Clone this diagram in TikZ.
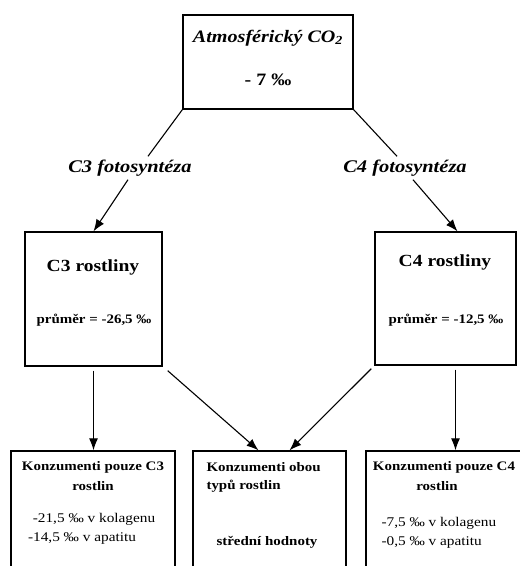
\documentclass[tikz,border=0pt]{standalone}
\usepackage{fontspec}
\setmainfont{Liberation Serif}[FakeStretch=1.15]
\usetikzlibrary{arrows.meta,calc}
\begin{document}
\begin{tikzpicture}[x=1pt,y=-1pt,
    box/.style={draw, line width=1.3pt, inner sep=0pt},
    con/.style={line width=1.1pt},
    arr/.style={line width=1.1pt, -{Latex[length=12pt,width=9pt]}},
    big/.style={font=\bfseries\fontsize{17}{20}\selectfont},
    sml/.style={font=\bfseries\fontsize{13}{15}\selectfont},
    val/.style={font=\fontsize{13.3}{15}\selectfont}]
\clip (0,0) rectangle (520,566);

% boxes
\node[box, minimum width=170pt, minimum height=94pt] (atm) at (268,62) {};
\node[box, minimum width=137pt, minimum height=134pt] (c3box) at (93.5,299) {};
\node[box, minimum width=141pt, minimum height=133pt] (c4box) at (445.5,298.5) {};
\node[box, minimum width=164pt, minimum height=160pt] (k3) at (93,531) {};
\node[box, minimum width=153pt, minimum height=160pt] (kboth) at (269.5,531) {};
\node[box, minimum width=156pt, minimum height=160pt] (k4) at (444,531) {};

% texts
\node[font=\bfseries\itshape\fontsize{17.5}{20}\selectfont] (atmname) at (268,38) {Atmosférický CO\textsubscript{2}};
\node[font=\bfseries\fontsize{17.4}{20}\selectfont] (atmval) at (268,80) {- 7 ‰};

\node[font=\bfseries\itshape\fontsize{17.8}{20}\selectfont] (c3lab) at (130,168) {C3 fotosyntéza};
\node[font=\bfseries\itshape\fontsize{17.8}{20}\selectfont] (c4lab) at (405,168) {C4 fotosyntéza};

\node[big] (c3name) at (93,267) {C3 rostliny};
\node[sml] (c3val) at (94,320) {průměr = -26,5 ‰};
\node[big] (c4name) at (445,262) {C4 rostliny};
\node[sml] (c4val) at (446,320) {průměr = -12,5 ‰};

\node[sml] (k3a) at (93,467) {Konzumenti pouze C3};
\node[sml] (k3b) at (93,486) {rostlin};
\node[val] (k3c) at (94,519) {-21,5 ‰ v kolagenu};
\node[val] (k3d) at (82,538) {-14,5 ‰ v apatitu};

\node[sml, anchor=west] (kba) at (203,467) {Konzumenti obou};
\node[sml, anchor=west] (kbb) at (203,486) {typů rostlin};
\node[sml] (kbc) at (267,542) {střední hodnoty};

\node[sml] (k4a) at (444,467) {Konzumenti pouze C4};
\node[sml] (k4b) at (437,486) {rostlin};
\node[val, anchor=west] (k4c) at (378,523) {-7,5 ‰ v kolagenu};
\node[val, anchor=west] (k4d) at (378,542) {-0,5 ‰ v apatitu};

% connectors
\coordinate (c3foot) at ($(c3box.south)+(0,4)$);
\coordinate (c4foot) at ($(c4box.south)+(10,4)$);
\draw[con] (atm.south west) -- ($(c3lab.north)+(18,0)$);
\draw[arr] ($(c3lab.south)+(-2,0)$) -- (c3box.north);
\draw[con] (atm.south east) -- ($(c4lab.north)+(-8,0)$);
\draw[arr] ($(c4lab.south)+(8,0)$) -- ($(c4box.north)+(12,0)$);

\draw[arr] (c3foot) -- (c3foot |- k3.north);
\draw[arr] ($(c3box.south east)+(5,4)$) -- ($(kboth.north)+(-11,0)$);
\draw[arr] ($(c4box.south west)+(-3,3)$) -- ($(kboth.north)+(20,0)$);
\draw[arr] (c4foot) -- (c4foot |- k4.north);

\end{tikzpicture}
\end{document}
